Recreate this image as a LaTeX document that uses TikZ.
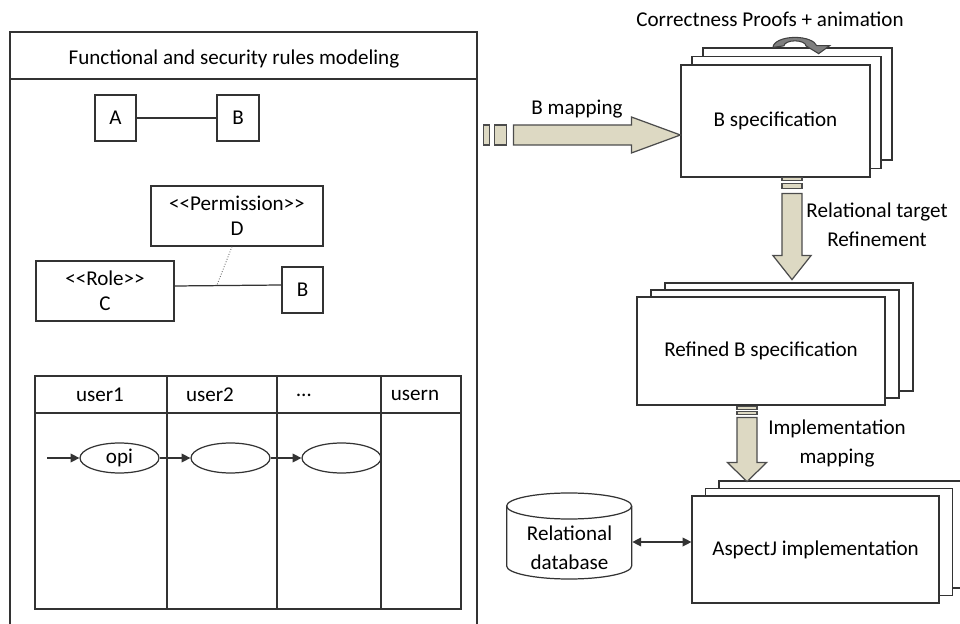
\documentclass[tikz,border=0pt]{standalone}
\usepackage{fontspec}
\setmainfont{Carlito}[Ligatures=TeXOff]
\usetikzlibrary{arrows.meta,shapes.geometric,shadows}
\definecolor{arrowfill}{HTML}{DDD9C3}
\definecolor{loopfill}{HTML}{7F7F7F}

\begin{document}
\begin{tikzpicture}[x=0.02cm, y=-0.02cm,
    every node/.style={font=\fontsize{12}{14}\selectfont, text=black},
    line/.style={draw=black!80, line width=0.7pt},
    umlbox/.style={rectangle, line, fill=white, align=center, inner sep=0pt},
    opnode/.style={ellipse, line, minimum width=1.58cm, minimum height=0.6cm, inner sep=0pt},
    flow/.style={line, -{Triangle[length=5pt,width=5pt]}},
    stack/.style={rectangle, line, fill=white, inner sep=0pt},
    annot/.style={align=center, font=\fontsize{12}{16.5}\selectfont},
    blockarrow/.style={draw=black!70, line width=0.7pt, fill=arrowfill},
    loop/.style={draw=black!75, line width=0.6pt, fill=loopfill},
    dbl/.style={line, {Triangle[length=5pt,width=5pt]}-{Triangle[length=5pt,width=5pt]}}
  ]
  \useasboundingbox (0,0) rectangle (960,624);

  % left panel
  \draw[line] (10,32) rectangle (477,640);
  \draw[line] (10,79) -- (477,79);
  \node (title) at (234,59) {Functional and security rules modeling};

  \node[umlbox, minimum width=0.82cm, minimum height=0.92cm] (a) at (115.5,118) {A};
  \node[umlbox, minimum width=0.84cm, minimum height=0.92cm] (b) at (238,118) {B};
  \draw[line] (a) -- (b);

  \node[umlbox, minimum width=3.44cm, minimum height=1.2cm] (perm) at (237,216) {<<Permission>>\\D};
  \node[umlbox, minimum width=2.76cm, minimum height=1.2cm] (role) at (105,291) {<<Role>>\\C};
  \node[umlbox, minimum width=0.82cm, minimum height=0.92cm] (b2) at (302.5,290) {B};
  \draw[line] ([yshift=0.1cm]role.east) -- ([yshift=0.1cm]b2.west);
  \coordinate (assoc) at (217,285);
  \draw[draw=black!60, line width=0.5pt, densely dotted] ([xshift=-0.1cm]perm.south) -- (assoc);

  % swimlanes
  \draw[line] (35,376) rectangle (461,609);
  \draw[line] (35,413) -- (461,413);
  \foreach \x in {167,277,381} {
    \draw[line] (\x,376) -- (\x,609);
  }
  \foreach \x/\t/\n in {100/user1/u1, 210/user2/u2, 304/{\ldots}/ud, 415/usern/un} {
    \node (\n) at (\x,395) {\t};
  }
  \coordinate (in) at (47,458);
  \node[opnode] (op1) at (119.5,458) {opi};
  \node[opnode] (op2) at (230.5,458) {};
  \node[opnode] (op3) at (341.5,458) {};
  \draw[flow] (in) -- (op1);
  \draw[flow] (op1) -- (op2);
  \draw[flow] (op2) -- (op3);

  % right side
  \node[stack, minimum width=3.78cm, minimum height=2.24cm,
    copy shadow={shadow xshift=0.44cm, shadow yshift=0.34cm, fill=white, draw=black!80, line width=0.7pt},
    copy shadow={shadow xshift=0.22cm, shadow yshift=0.17cm, fill=white, draw=black!80, line width=0.7pt}]
    (bspec) at (775.5,121) {B specification};
  \node[stack, minimum width=4.96cm, minimum height=2.16cm,
    copy shadow={shadow xshift=0.56cm, shadow yshift=0.28cm, fill=white, draw=black!80, line width=0.7pt},
    copy shadow={shadow xshift=0.28cm, shadow yshift=0.14cm, fill=white, draw=black!80, line width=0.7pt}]
    (refined) at (761,351) {Refined B specification};
  \node[stack, minimum width=4.94cm, minimum height=2.14cm,
    copy shadow={shadow xshift=0.54cm, shadow yshift=0.30cm, fill=white, draw=black!80, line width=0.7pt},
    copy shadow={shadow xshift=0.27cm, shadow yshift=0.15cm, fill=white, draw=black!80, line width=0.7pt}]
    (aspectj) at (815.5,549.5) {AspectJ implementation};

  \node (proofs) at (770,19) {Correctness Proofs + animation};
  \draw[loop] (bspec.north) ++(-2.5,-17) arc[start angle=180, end angle=350, x radius=22, y radius=10]
    -- ++(13,0) -- ++(-11,8) -- ++(-12.7,-7.8)
    arc[start angle=360, end angle=180, x radius=11, y radius=5] -- cycle;

  \node (mapb) at (577,109) {B mapping};
  \draw[blockarrow] ([yshift=-0.28cm]bspec.west) ++(-186,-10) rectangle ++(12,20);
  \draw[blockarrow] ([yshift=-0.28cm]bspec.west) ++(-197,-10) rectangle ++(6,20);
  \draw[blockarrow] ([yshift=-0.28cm]bspec.west) -- ++(-49,-18) -- ++(0,8) -- ++(-118,0)
    -- ++(0,20) -- ++(118,0) -- ++(0,8) -- cycle;

  \node[annot] (reflabel) at (877,225) {Relational target\\Refinement};
  \draw[blockarrow] ([xshift=0.33cm]bspec.south) ++(-10,0) rectangle ++(20,3) ++(-20,3) rectangle ++(20,5);
  \draw[blockarrow] ([xshift=0.33cm]bspec.south) ++(-10,16) -- ++(20,0) -- ++(0,62) -- ++(9,0)
    -- ++(-19,24) -- ++(-19,-24) -- ++(9,0) -- cycle;

  \node[annot] (implabel) at (837,443.5) {Implementation\\mapping};
  \draw[blockarrow] ([xshift=-0.28cm]refined.south) ++(-10,1) rectangle ++(20,3) ++(-20,2) rectangle ++(20,3);
  \draw[blockarrow] ([xshift=-0.28cm]refined.south) ++(-10,12) -- ++(20,0) -- ++(0,45) -- ++(9.5,0)
    -- ++(-19.5,19) -- ++(-19.5,-19) -- ++(9.5,0) -- cycle;

  \node[annot, minimum width=2.5cm, inner sep=0pt] (db) at (569.5,548) {Relational\\database};
  \draw[line] (db.west) ++(0,-42) -- ++(0,60) arc[start angle=180, end angle=0, x radius=62.5, y radius=13]
    -- ++(0,-60) arc[start angle=0, end angle=-180, x radius=62.5, y radius=13];
  \draw[line] (db.west) ++(0,-42) arc[start angle=180, end angle=0, x radius=62.5, y radius=13];
  \draw[dbl] ([yshift=0.12cm]db.east) -- ([yshift=0.12cm]db.east -| aspectj.west);
\end{tikzpicture}
\end{document}
